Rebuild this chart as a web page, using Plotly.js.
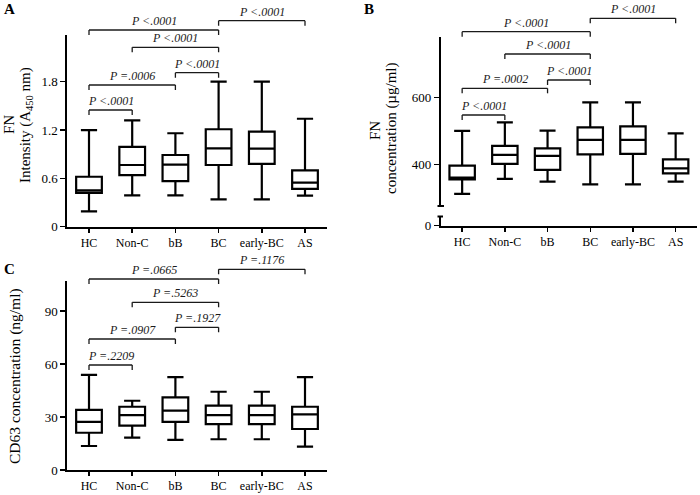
<!DOCTYPE html>
<html>
<head>
<meta charset="utf-8">
<script src="https://cdn.plot.ly/plotly-3.0.1.min.js"></script>
<style>html,body{margin:0;padding:0;background:#fff;}#chart{width:700px;height:495px;}</style>
</head>
<body>
<div id="chart"></div>
<script>
// ---------- data ----------
const categories = ['HC', 'Non-C', 'bB', 'BC', 'early-BC', 'AS'];

// Panel A: FN intensity (A450 nm)
const aMin = [0.19, 0.39, 0.39, 0.34, 0.34, 0.385];
const aQ1  = [0.42, 0.64, 0.567, 0.766, 0.78, 0.47];
const aMed = [0.45, 0.766, 0.77, 0.973, 0.97, 0.546];
const aQ3  = [0.62, 0.99, 0.89, 1.21, 1.18, 0.70];
const aMax = [1.2, 1.32, 1.16, 1.8, 1.8, 1.34];

// Panel B: FN concentration (µg/ml)
const bMin = [311, 356, 348, 340, 340, 348];
const bQ1  = [355, 401, 383, 430, 431, 373];
const bMed = [360, 428, 425, 473, 473, 388];
const bQ3  = [396, 455, 448, 511, 514, 415];
const bMax = [500, 526, 501, 586, 586, 493];

// Panel C: CD63 concentration (ng/ml)
const cMin = [13.6, 18.3, 17.0, 17.4, 17.4, 13.2];
const cQ1  = [21.1, 25.1, 27.3, 26.0, 26.0, 23.2];
const cMed = [27.2, 31.1, 33.6, 31.1, 31.1, 31.5];
const cQ3  = [34.0, 35.8, 41.1, 36.4, 36.4, 35.8];
const cMax = [53.8, 39.2, 52.6, 44.3, 44.3, 52.6];

// Pairwise comparisons and p-value labels
const compFrom = ['HC', 'HC', 'bB', 'Non-C', 'HC', 'BC'];
const compTo   = ['Non-C', 'bB', 'BC', 'BC', 'BC', 'AS'];
const pA = ['P <.0001', 'P =.0006', 'P <.0001', 'P <.0001', 'P <.0001', 'P <.0001'];
const pB = ['P <.0001', 'P =.0002', 'P <.0001', 'P <.0001', 'P <.0001', 'P <.0001'];
const pC = ['P =.2209', 'P =.0907', 'P =.1927', 'P =.5263', 'P =.0665', 'P =.1176'];

// Tick labels
const aTicks = [0, 0.6, 1.2, 1.8];
const aTickText = ['0', '0.6', '1.2', '1.8'];
const bTicks = [400, 600];
const bLowTicks = [0];
const cTicks = [0, 30, 60, 90];

// ---------- layout helpers ----------
const W = 700, H = 495;
const FONT = 'Liberation Serif, Times New Roman, serif';
const py = p => 1 - p / H;   // pixel row -> paper y
const px = p => p / W;       // pixel col -> paper x

function boxTrace(q1, med, q3, lo, hi, xa, ya) {
  return {
    type: 'box', x: categories, q1: q1, median: med, q3: q3,
    lowerfence: lo, upperfence: hi,
    xaxis: xa, yaxis: ya, boxpoints: false,
    fillcolor: 'rgba(255,255,255,1)',
    line: {color: '#000', width: 2.2},
    whiskerwidth: 0.63, showlegend: false, hoverinfo: 'skip'
  };
}

const shapes = [];
const annotations = [];
function brackets(xref, rows, labels) {
  for (let i = 0; i < compFrom.length; i++) {
    const y = py(rows[i]), yd = py(rows[i] + 5);
    const ln = {color: '#1a1a1a', width: 1.3};
    shapes.push({type: 'line', xref: xref, yref: 'paper', x0: compFrom[i], x1: compTo[i], y0: y, y1: y, line: ln});
    shapes.push({type: 'line', xref: xref, yref: 'paper', x0: compFrom[i], x1: compFrom[i], y0: y, y1: yd, line: ln});
    shapes.push({type: 'line', xref: xref, yref: 'paper', x0: compTo[i], x1: compTo[i], y0: y, y1: yd, line: ln});
    const i0 = categories.indexOf(compFrom[i]), i1 = categories.indexOf(compTo[i]);
    annotations.push({
      xref: xref, yref: 'paper', x: (i0 + i1) / 2, y: y, yanchor: 'bottom', xanchor: 'center',
      yshift: 0, showarrow: false, text: '<i>' + labels[i] + '</i>',
      font: {family: FONT, size: 12, color: '#1a1a1a'}
    });
  }
}
brackets('x', [110, 85, 72.7, 47.3, 30, 20.7], pA);
brackets('x2', [115, 88.3, 80, 54, 31.7, 18.3], pB);
brackets('x3', [365, 339, 327.3, 302.3, 279, 269.3], pC);

// broken-axis marks in panel B
shapes.push({type: 'line', xref: 'paper', yref: 'paper', x0: px(437.5), x1: px(444), y0: py(206), y1: py(206), line: {color: '#000', width: 2}});
shapes.push({type: 'line', xref: 'paper', yref: 'paper', x0: px(437.5), x1: px(443), y0: py(216.5), y1: py(216.5), line: {color: '#000', width: 2}});

// panel letters
[['A', 9, 9], ['B', 369, 9], ['C', 9, 269]].forEach(([t, x, y]) => {
  annotations.push({xref: 'paper', yref: 'paper', x: px(x), y: py(y), xanchor: 'center', yanchor: 'middle',
    showarrow: false, text: '<b>' + t + '</b>', font: {family: FONT, size: 15, color: '#000'}});
});

// y-axis titles (one annotation per line for exact spacing)
function ytitle(text, x, y, size) {
  annotations.push({xref: 'paper', yref: 'paper', x: px(x), y: py(y), xanchor: 'center', yanchor: 'middle',
    showarrow: false, textangle: -90, text: text, font: {family: FONT, size: size, color: '#000'}});
}
ytitle('FN', 9, 125, 15);
ytitle('Intensity (A<sub>450</sub> nm)', 26, 125, 15);
ytitle('FN', 375, 131, 15);
ytitle('concentration (µg/ml)', 391, 128, 15);
ytitle('CD63 concentration (ng/ml)', 15, 376, 15.5);

const xBase = {
  type: 'category', categoryorder: 'array', categoryarray: categories, range: [-0.5, 5.5],
  showline: true, linecolor: '#000', linewidth: 2, ticks: 'outside', ticklen: 4, tickwidth: 1.5,
  tickcolor: '#000', showgrid: false, zeroline: false, fixedrange: true,
  tickfont: {family: FONT, size: 12, color: '#000'}
};
const yBase = {
  showline: true, linecolor: '#000', linewidth: 2, ticks: 'outside', ticklen: 5, tickwidth: 1.5,
  tickcolor: '#000', showgrid: false, zeroline: false, fixedrange: true,
  tickfont: {family: FONT, size: 13, color: '#000'}
};

const layout = {
  width: W, height: H, margin: {l: 0, r: 0, t: 0, b: 0},
  paper_bgcolor: '#fff', plot_bgcolor: '#fff', showlegend: false,
  boxgap: 0.15,
  font: {family: FONT, color: '#000'},
  xaxis:  Object.assign({}, xBase, {domain: [px(67.4), px(326.6)], anchor: 'y'}),
  yaxis:  Object.assign({}, yBase, {domain: [py(226.7), py(35)], range: [0, 2.38], anchor: 'x',
           tickmode: 'array', tickvals: aTicks, ticktext: aTickText}),
  xaxis2: Object.assign({}, xBase, {domain: [px(440.8), px(697)], anchor: 'y3'}),
  yaxis2: Object.assign({}, yBase, {domain: [py(206), py(36.7)], range: [274.9, 782.8], anchor: 'x2',
           tickmode: 'array', tickvals: bTicks}),
  yaxis3: Object.assign({}, yBase, {domain: [py(225.7), py(216.7)], range: [0, 27], anchor: 'x2',
           tickmode: 'array', tickvals: bLowTicks}),
  xaxis3: Object.assign({}, xBase, {domain: [px(67.4), px(326.6)], anchor: 'y4'}),
  yaxis4: Object.assign({}, yBase, {domain: [py(470), py(281)], range: [0, 107], anchor: 'x3',
           tickmode: 'array', tickvals: cTicks}),
  shapes: shapes, annotations: annotations
};

const data = [
  boxTrace(aQ1, aMed, aQ3, aMin, aMax, 'x', 'y'),
  boxTrace(bQ1, bMed, bQ3, bMin, bMax, 'x2', 'y2'),
  // empty trace so the lower segment of panel B's broken y-axis is drawn
  {type: 'scatter', x: [], y: [], xaxis: 'x2', yaxis: 'y3', mode: 'markers', showlegend: false, hoverinfo: 'skip'},
  boxTrace(cQ1, cMed, cQ3, cMin, cMax, 'x3', 'y4')
];

Plotly.newPlot('chart', data, layout, {staticPlot: true, displayModeBar: false});
</script>
</body>
</html>
